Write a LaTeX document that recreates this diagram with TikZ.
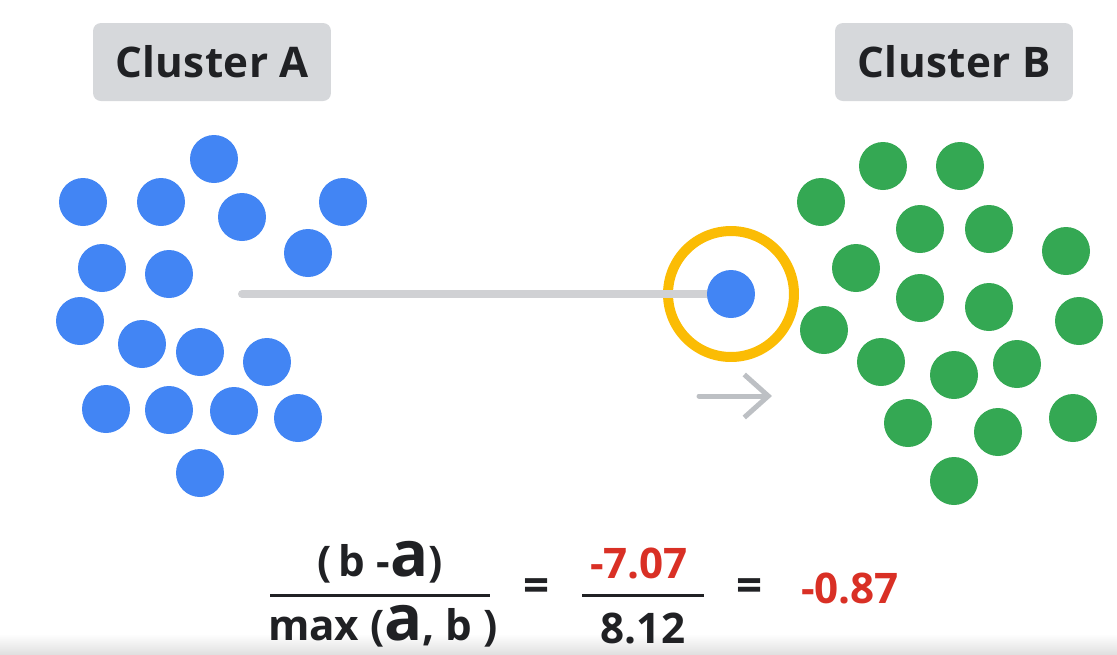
\documentclass[tikz,border=0pt]{standalone}
\usepackage{fontspec}
\setmainfont{Open Sans}
\newfontfamily\medfont{Open Sans}
\newfontfamily\labelfont{Open Sans}[LetterSpace=1]
\usetikzlibrary{arrows.meta,positioning}
\definecolor{gblue}{HTML}{4285F4}
\definecolor{ggreen}{HTML}{34A853}
\definecolor{gyellow}{HTML}{FBBC04}
\definecolor{gred}{HTML}{D93025}
\definecolor{ink}{HTML}{202124}
\definecolor{tagfill}{HTML}{D6D8DB}
\definecolor{linkgray}{HTML}{D0D1D4}
\definecolor{arrowgray}{HTML}{BDC0C4}
\newcommand{\biga}{{\fontsize{36}{40}\selectfont a}}

\begin{document}
\begin{tikzpicture}[
  x=0.02cm, y=-0.02cm,
  tag/.style={fill=tagfill, rounded corners=4.5pt, minimum width=4.76cm,
              minimum height=1.56cm, inner sep=0pt, text=ink,
              font=\labelfont\bfseries\fontsize{24}{28}\selectfont},
  bluedot/.style={circle, fill=gblue, minimum size=0.96cm, inner sep=0pt},
  greendot/.style={circle, fill=ggreen, minimum size=0.96cm, inner sep=0pt},
  ring/.style={circle, draw=gyellow, line width=0.2cm, minimum size=2.52cm, inner sep=0pt},
  bar/.style={fill=ink, minimum height=0.06cm, inner sep=0pt},
  term/.style={text=ink, inner sep=0pt, font=\medfont\bfseries\fontsize{24}{28}\selectfont},
  result/.style={term, text=gred},
  link/.style={draw=linkgray, line width=0.16cm, line cap=round},
  move/.style={draw=arrowgray, line width=0.1cm, line cap=round, line join=round,
               -{Straight Barb[length=0.48cm, width=0.86cm]}}]
  \useasboundingbox (0,0) rectangle (1117,654);
  \shade[top color=white, bottom color=black!12] (0,634) rectangle (1117,654);

  % cluster labels
  \node[tag] (tagA) at (212,62) {Cluster A};
  \node[tag] (tagB) at (954,62) {Cluster B};

  % cluster A
  \foreach \x/\y [count=\i] in {214/159, 83/202, 161/202, 242/217, 343/202,
      102/268, 169/274, 308/253, 80/321, 142/344, 200/352, 267/362,
      106/409, 169/410, 234/411, 298/418, 200/473}
    \node[bluedot] (a\i) at (\x,\y) {};

  % cluster B
  \foreach \x/\y [count=\i] in {883/166, 960/166, 821/202, 920/229, 989/229,
      1066/251, 856/268, 920/298, 989/307, 1079/321, 824/330, 881/362,
      954/375, 1017/364, 908/423, 998/432, 1073/418, 954/481}
    \node[greendot] (b\i) at (\x,\y) {};

  % the point and its distance
  \coordinate (start) at (242,294);
  \node[ring] (halo) at (731,294) {};
  \draw[link] (start) -- (halo.center);
  \node[bluedot] (pt) at (halo.center) {};
  \coordinate (tail) at (699,396);
  \coordinate (head) at (772,396);
  \draw[move] (tail) -- (head);

  % silhouette score
  \node[bar, minimum width=4.4cm] (bar1) at (380,595) {};
  \node[term] (num1) at (380,562) {(\,b -\biga)};
  \node[term] (den1) at (383,626) {max (\biga, b )};
  \node[term, font=\medfont\bfseries\fontsize{26}{28}\selectfont] (eq1) at (537,590) {=};
  \node[bar, minimum width=2.44cm] (bar2) at (643,595) {};
  \node[result] (num2) at (639,563) {-7.07};
  \node[term] (den2) at (643,628) {8.12};
  \node[term, font=\medfont\bfseries\fontsize{26}{28}\selectfont] (eq2) at (750,590) {=};
  \node[result] (score) at (850,588) {-0.87};
\end{tikzpicture}
\end{document}
